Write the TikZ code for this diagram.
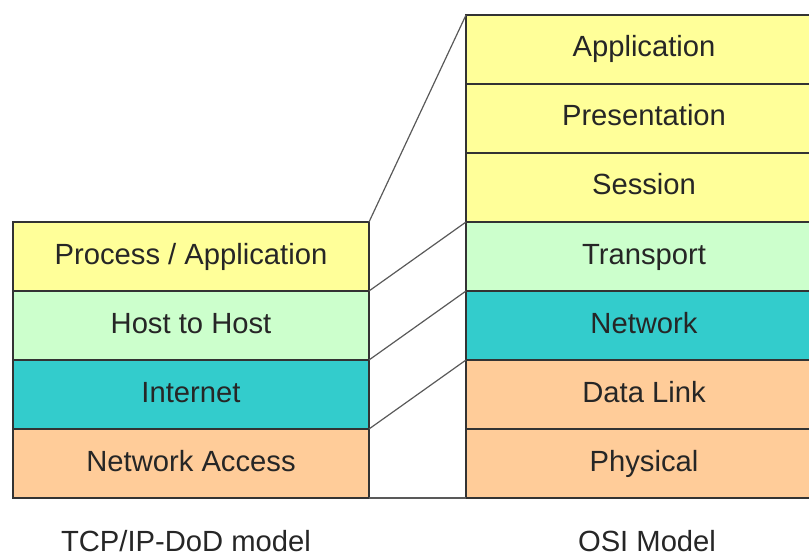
\documentclass[tikz,border=0pt]{standalone}
\usepackage{fontspec}
\setmainfont{Liberation Sans}
\usetikzlibrary{positioning}

\definecolor{appyellow}{HTML}{FFFF99}
\definecolor{hostgreen}{HTML}{CCFFCC}
\definecolor{netteal}{HTML}{33CCCC}
\definecolor{linkorange}{HTML}{FFCC99}

\begin{document}
\begin{tikzpicture}[
      x=0.5pt, y=-0.5pt,
      layer/.style={draw=black!80, line width=0.8pt, minimum width=178pt, minimum height=34.5pt,
        inner sep=0pt, outer sep=0pt, text height=10.5pt, text depth=3pt, text=black!85,
        font=\fontsize{14.6}{17}\selectfont},
      caption/.style={font=\fontsize{14.6}{17}\selectfont, text=black!85},
      link/.style={draw=black!65, line width=0.6pt},
      node distance=0pt
    ]
      \useasboundingbox (0,0) rectangle (809,556);

      % TCP/IP stack
      \node[layer, fill=appyellow] (proc) at (191,256.5) {Process / Application};
      \node[layer, fill=hostgreen, below=of proc] (host) {Host to Host};
      \node[layer, fill=netteal, below=of host] (inet) {Internet};
      \node[layer, fill=linkorange, below=of inet] (nacc) {Network Access};

      % OSI stack
      \node[layer, fill=appyellow] (app) at (644,49.5) {Application};
      \node[layer, fill=appyellow, below=of app] (pres) {Presentation};
      \node[layer, fill=appyellow, below=of pres] (sess) {Session};
      \node[layer, fill=hostgreen, below=of sess] (trans) {Transport};
      \node[layer, fill=netteal, below=of trans] (net) {Network};
      \node[layer, fill=linkorange, below=of net] (dlink) {Data Link};
      \node[layer, fill=linkorange, below=of dlink] (phys) {Physical};

      \draw[link] (proc.north east) -- (app.north west);
      \draw[link] (host.north east) -- (trans.north west);
      \draw[link] (inet.north east) -- (net.north west);
      \draw[link] (nacc.north east) -- (dlink.north west);
      \draw[link] (nacc.south east) -- (phys.south west);

      \node[caption] (tcpcap) at (186,541) {TCP/IP-DoD model};
      \node[caption] (osicap) at (647,541) {OSI Model};
    \end{tikzpicture}
\end{document}
